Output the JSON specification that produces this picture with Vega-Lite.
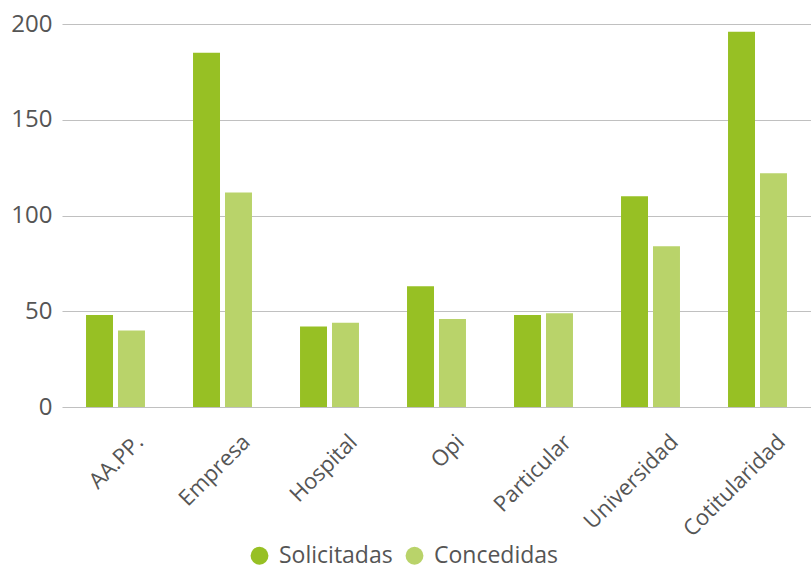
{
  "$schema": "https://vega.github.io/schema/vega-lite/v6.json",
  "width": 749,
  "height": 383,
  "autosize": "none",
  "padding": {"left": 62, "top": 24, "right": 0, "bottom": 162},
  "background": "white",
  "config": {
    "view": {"stroke": null},
    "font": "Open Sans"
  },
  "data": {
    "values": [
      {"cat": "AA.PP.", "serie": "Solicitadas", "v": 48},
      {"cat": "AA.PP.", "serie": "Concedidas", "v": 40},
      {"cat": "Empresa", "serie": "Solicitadas", "v": 185},
      {"cat": "Empresa", "serie": "Concedidas", "v": 112},
      {"cat": "Hospital", "serie": "Solicitadas", "v": 42},
      {"cat": "Hospital", "serie": "Concedidas", "v": 44},
      {"cat": "Opi", "serie": "Solicitadas", "v": 63},
      {"cat": "Opi", "serie": "Concedidas", "v": 46},
      {"cat": "Particular", "serie": "Solicitadas", "v": 48},
      {"cat": "Particular", "serie": "Concedidas", "v": 49},
      {"cat": "Universidad", "serie": "Solicitadas", "v": 110},
      {"cat": "Universidad", "serie": "Concedidas", "v": 84},
      {"cat": "Cotitularidad", "serie": "Solicitadas", "v": 196},
      {"cat": "Cotitularidad", "serie": "Concedidas", "v": 122}
    ]
  },
  "mark": {"type": "bar"},
  "encoding": {
    "x": {
      "field": "cat", "type": "nominal", "sort": null,
      "scale": {"paddingInner": 0.449, "paddingOuter": 0.2245},
      "axis": {
        "title": null, "labelAngle": -45, "labelFontSize": 22, "labelColor": "#555555",
        "labelPadding": 24, "labelOffset": 17, "ticks": false, "domain": false, "grid": false
      }
    },
    "xOffset": {
      "field": "serie", "type": "nominal", "sort": ["Solicitadas", "Concedidas"],
      "scale": {"paddingInner": 0.156, "paddingOuter": 0}
    },
    "y": {
      "field": "v", "type": "quantitative",
      "scale": {"domain": [0, 200]},
      "axis": {
        "title": null, "values": [0, 50, 100, 150, 200], "labelFontSize": 24, "labelColor": "#555555",
        "labelPadding": 10, "ticks": false, "domain": false, "gridColor": "#c0c0c0", "gridWidth": 1.2
      }
    },
    "color": {
      "field": "serie", "type": "nominal", "sort": ["Solicitadas", "Concedidas"],
      "scale": {"domain": ["Solicitadas", "Concedidas"], "range": ["#97c024", "#b9d36a"]},
      "legend": {
        "title": null, "orient": "none", "direction": "horizontal",
        "legendX": 186, "legendY": 520,
        "symbolType": "circle", "symbolSize": 320, "symbolStrokeWidth": 0,
        "labelFontSize": 23, "labelColor": "#555555", "columnPadding": 10, "labelOffset": 8
      }
    }
  }
}
